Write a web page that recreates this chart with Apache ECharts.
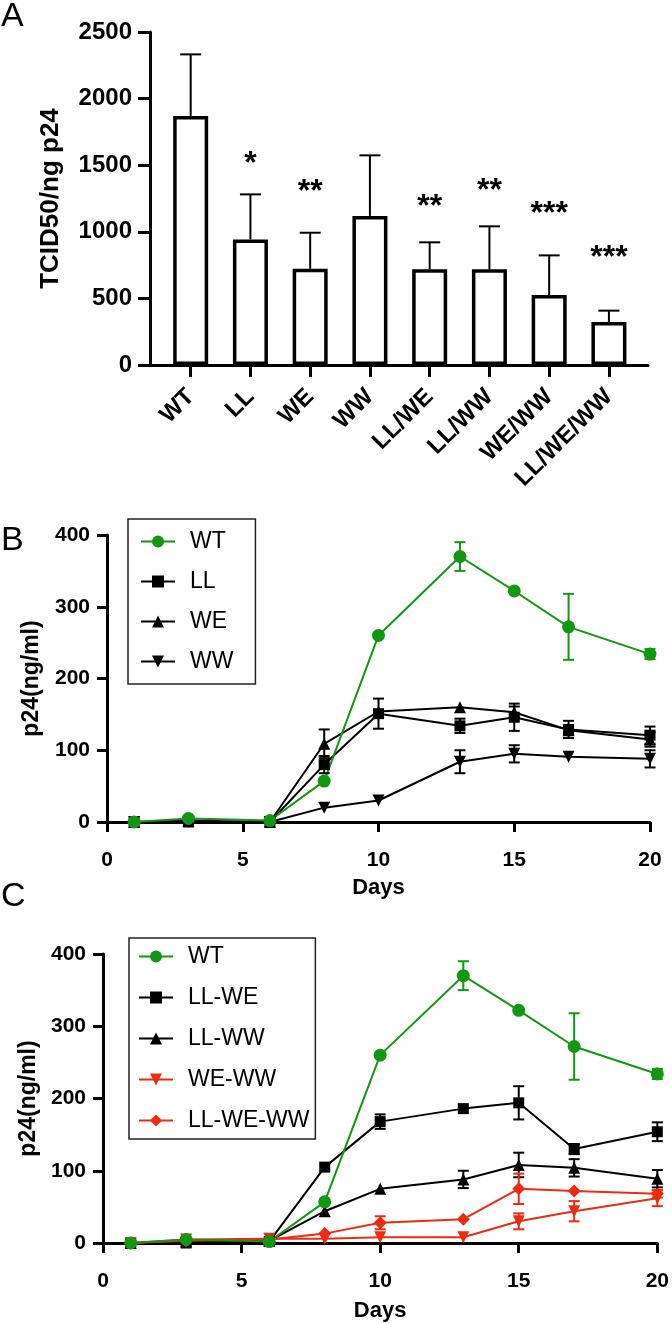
<!DOCTYPE html>
<html>
<head>
<meta charset="utf-8">
<script src="https://cdn.jsdelivr.net/npm/echarts@6/dist/echarts.min.js"></script>
<style>
html,body{margin:0;padding:0;background:#fff;}
#chart{width:672px;height:1323px;}
</style>
</head>
<body>
<div id="chart"></div>
<script>
// ---------- Panel A data ----------
const catsA = ['WT', 'LL', 'WE', 'WW', 'LL/WE', 'LL/WW', 'WE/WW', 'LL/WE/WW'];
const meanA = [1870, 943, 723, 1119, 718, 718, 525, 323];
const sdA = [462, 338, 270, 455, 203, 323, 298, 85];
const sigA = ['', '*', '**', '', '**', '**', '***', '***'];
const sigLevelA = [null, 1562, 1351, null, 1239, 1359, 1186, 856];
const yTicksA = [0, 500, 1000, 1500, 2000, 2500];

// ---------- Panel B / C data ----------
const days = [1, 3, 6, 8, 10, 13, 15, 17, 20];
const wtB = [0, 5, 2, 57, 260, 370, 322, 272, 234];
const wtBErr = [0, 0, 0, 0, 0, 20, 0, 46, 7];
const llB = [0, 0, 0, 80, 151, 134, 146, 129, 121];
const llBErr = [0, 0, 0, 12, 21, 10, 19, 12, 12];
const weB = [0, 2, 0, 109, 154, 160, 153, 128, 115];
const weBErr = [0, 0, 0, 20, 0, 0, 8, 5, 10];
const wwB = [0, 0, 0, 20, 30, 84, 95, 91, 88];
const wwBErr = [0, 0, 0, 0, 0, 16, 12, 0, 12];

const wtC = [0, 5, 2, 57, 260, 370, 322, 272, 234];
const wtCErr = [0, 0, 0, 0, 0, 20, 0, 46, 7];
const llweC = [0, 0, 2, 105, 168, 186, 194, 130, 154];
const llweCErr = [0, 0, 0, 0, 10, 0, 23, 7, 13];
const llwwC = [0, 2, 3, 44, 75, 88, 108, 104, 89];
const llwwCErr = [0, 0, 0, 0, 0, 12, 17, 12, 12];
const wewwC = [0, 5, 6, 6, 8, 8, 30, 44, 62];
const wewwCErr = [0, 0, 0, 0, 0, 0, 11, 14, 11];
const llwewwC = [0, 3, 5, 13, 28, 33, 75, 72, 68];
const llwewwCErr = [0, 0, 0, 0, 9, 0, 21, 0, 5];

const FONT = "'Liberation Sans', Arial, sans-serif";
const GREEN = '#139613';
const RED = '#ec2b12';
const BLACK = '#000000';
const TRI_DOWN = 'path://M0,0 L10,0 L5,9 Z';

function errRenderer(color, cap, both) {
  return function (params, api) {
    const x = api.value(0), y = api.value(1), e = api.value(2);
    if (!e) return null;
    const top = api.coord([x, y + e]);
    const bot = api.coord([x, both ? y - e : y]);
    const h = cap / 2;
    const st = { stroke: color, lineWidth: 2 };
    const ch = [
      { type: 'line', shape: { x1: top[0], y1: top[1], x2: bot[0], y2: bot[1] }, style: st },
      { type: 'line', shape: { x1: top[0] - h, y1: top[1], x2: top[0] + h, y2: top[1] }, style: st }
    ];
    if (both) ch.push({ type: 'line', shape: { x1: bot[0] - h, y1: bot[1], x2: bot[0] + h, y2: bot[1] }, style: st });
    return { type: 'group', children: ch };
  };
}

function lineGroup(name, vals, errs, color, symbol, size, axisIdx) {
  return [
    {
      type: 'line', name: name, xAxisIndex: axisIdx, yAxisIndex: axisIdx,
      data: days.map((d, i) => [d, vals[i]]),
      symbol: symbol, symbolSize: size, showAllSymbol: true,
      lineStyle: { color: color, width: 2 },
      itemStyle: { color: color },
      emphasis: { disabled: true }, animation: false, z: 3
    },
    {
      type: 'custom', name: name + '_err', xAxisIndex: axisIdx, yAxisIndex: axisIdx,
      data: days.map((d, i) => [d, vals[i], errs[i]]),
      renderItem: errRenderer(color, 11, true), z: 4, animation: false, silent: true
    }
  ];
}

function valueXAxis(gridIndex, nameGap) {
  return {
    gridIndex: gridIndex, type: 'value', min: 0, max: 20, interval: 5,
    axisLine: { show: true, onZero: false, lineStyle: { color: BLACK, width: 3 } },
    axisTick: { show: true, length: 10, lineStyle: { color: BLACK, width: 3 } },
    axisLabel: { fontSize: 21, fontWeight: 'bold', color: BLACK, fontFamily: FONT, margin: 28 },
    splitLine: { show: false },
    name: 'Days', nameLocation: 'middle', nameGap: nameGap,
    nameTextStyle: { fontSize: 22, fontWeight: 'bold', color: BLACK, fontFamily: FONT }
  };
}
function valueYAxis(gridIndex, nameGap) {
  return {
    gridIndex: gridIndex, type: 'value', min: 0, max: 400, interval: 100,
    axisLine: { show: true, lineStyle: { color: BLACK, width: 3 } },
    axisTick: { show: true, length: 10, lineStyle: { color: BLACK, width: 3 } },
    axisLabel: { fontSize: 21, fontWeight: 'bold', color: BLACK, fontFamily: FONT, margin: 17 },
    splitLine: { show: false },
    name: 'p24(ng/ml)', nameLocation: 'middle', nameGap: nameGap,
    nameTextStyle: { fontSize: 23, fontWeight: 'bold', color: BLACK, fontFamily: FONT }
  };
}

const chart = echarts.init(document.getElementById('chart'), null, { renderer: 'canvas' });

const series = [
  // Panel A bars
  {
    type: 'bar', xAxisIndex: 0, yAxisIndex: 0, data: meanA, barWidth: 35,
    itemStyle: { color: '#ffffff', borderColor: BLACK, borderWidth: 3.5 },
    emphasis: { disabled: true }, animation: false, z: 2
  },
  {
    type: 'custom', xAxisIndex: 0, yAxisIndex: 0,
    data: catsA.map((c, i) => [i, meanA[i], sdA[i]]),
    renderItem: errRenderer(BLACK, 21, false), z: 1, animation: false, silent: true
  },
  {
    type: 'custom', xAxisIndex: 0, yAxisIndex: 0,
    data: catsA.map((c, i) => [i, sigLevelA[i] == null ? 0 : sigLevelA[i], i]),
    renderItem: function (params, api) {
      const i = api.value(2);
      if (!sigA[i]) return null;
      const p = api.coord([api.value(0), api.value(1)]);
      return {
        type: 'text', x: p[0], y: p[1] + 7,
        style: { text: sigA[i], fontSize: 32, fontWeight: 'bold', fontFamily: FONT, fill: BLACK, align: 'center', verticalAlign: 'middle' }
      };
    }, animation: false, silent: true
  }
];

// Panel B
series.push(...lineGroup('LL', llB, llBErr, BLACK, 'rect', 11, 2));
series.push(...lineGroup('WE', weB, weBErr, BLACK, 'triangle', 12, 2));
series.push(...lineGroup('WW', wwB, wwBErr, BLACK, TRI_DOWN, 12, 2));
series.push(...lineGroup('WT', wtB, wtBErr, GREEN, 'circle', 13, 2));
// Panel C
series.push(...lineGroup('LL-WE', llweC, llweCErr, BLACK, 'rect', 11, 3));
series.push(...lineGroup('LL-WW', llwwC, llwwCErr, BLACK, 'triangle', 12, 3));
series.push(...lineGroup('WE-WW', wewwC, wewwCErr, RED, TRI_DOWN, 12, 3));
series.push(...lineGroup('LL-WE-WW', llwewwC, llwewwCErr, RED, 'diamond', 13, 3));
series.push(...lineGroup('WT', wtC, wtCErr, GREEN, 'circle', 13, 3));

const legendCommon = {
  orient: 'vertical', selectedMode: false,
  borderColor: '#222', borderWidth: 1.5,
  itemWidth: 34, itemHeight: 15,
  textStyle: { fontSize: 23, color: BLACK, fontFamily: FONT, padding: [0, 0, 0, 10] }
};

const option = {
  backgroundColor: '#ffffff',
  animation: false,
  grid: [
    { left: 160.8, top: 32, width: 478, height: 333 },
    { left: 150, top: 32, width: 498, height: 333 },
    { left: 107, top: 535, width: 543, height: 287 },
    { left: 103, top: 954, width: 557, height: 289 }
  ],
  xAxis: [
    {
      gridIndex: 0, type: 'category', data: catsA,
      axisLine: { show: false },
      axisTick: { show: true, alignWithLabel: true, length: 12, lineStyle: { color: BLACK, width: 3 } },
      axisLabel: { rotate: 45, interval: 0, fontSize: 24, fontWeight: 'bold', color: BLACK, fontFamily: FONT, margin: 28 },
      splitLine: { show: false }
    },
    {
      gridIndex: 1, type: 'value', min: 0, max: 1,
      axisLine: { show: true, onZero: false, lineStyle: { color: BLACK, width: 3 } },
      axisTick: { show: false }, axisLabel: { show: false }, splitLine: { show: false }
    },
    valueXAxis(2, 55),
    valueXAxis(3, 57)
  ],
  yAxis: [
    { gridIndex: 0, type: 'value', min: 0, max: 2500, interval: 500, show: false, splitLine: { show: false } },
    {
      gridIndex: 1, type: 'value', min: yTicksA[0], max: yTicksA[yTicksA.length - 1], interval: 500,
      axisLine: { show: true, lineStyle: { color: BLACK, width: 3 } },
      axisTick: { show: true, length: 12, lineStyle: { color: BLACK, width: 3 } },
      axisLabel: { fontSize: 24, fontWeight: 'bold', color: BLACK, fontFamily: FONT, margin: 18, formatter: v => String(v) },
      splitLine: { show: false },
      name: 'TCID50/ng p24', nameLocation: 'middle', nameGap: 86,
      nameTextStyle: { fontSize: 26, fontWeight: 'bold', color: BLACK, fontFamily: FONT }
    },
    valueYAxis(2, 64),
    valueYAxis(3, 62)
  ],
  legend: [
    Object.assign({}, legendCommon, {
      left: 128, top: 519, data: ['WT', 'LL', 'WE', 'WW'],
      padding: [11, 22, 11, 12], itemGap: 17
    }),
    Object.assign({}, legendCommon, {
      left: 129, top: 938, data: ['WT', 'LL-WE', 'LL-WW', 'WE-WW', 'LL-WE-WW'],
      padding: [7, 6, 7, 9], itemGap: 18
    })
  ],
  graphic: [
    { type: 'text', left: 1, top: 0, style: { text: 'A', fontSize: 34, fontFamily: FONT, fill: BLACK } },
    { type: 'text', left: 1, top: 524, style: { text: 'B', fontSize: 34, fontFamily: FONT, fill: BLACK } },
    { type: 'text', left: 1, top: 880, style: { text: 'C', fontSize: 34, fontFamily: FONT, fill: BLACK } }
  ],
  series: series
};
chart.setOption(option);
</script>
</body>
</html>
